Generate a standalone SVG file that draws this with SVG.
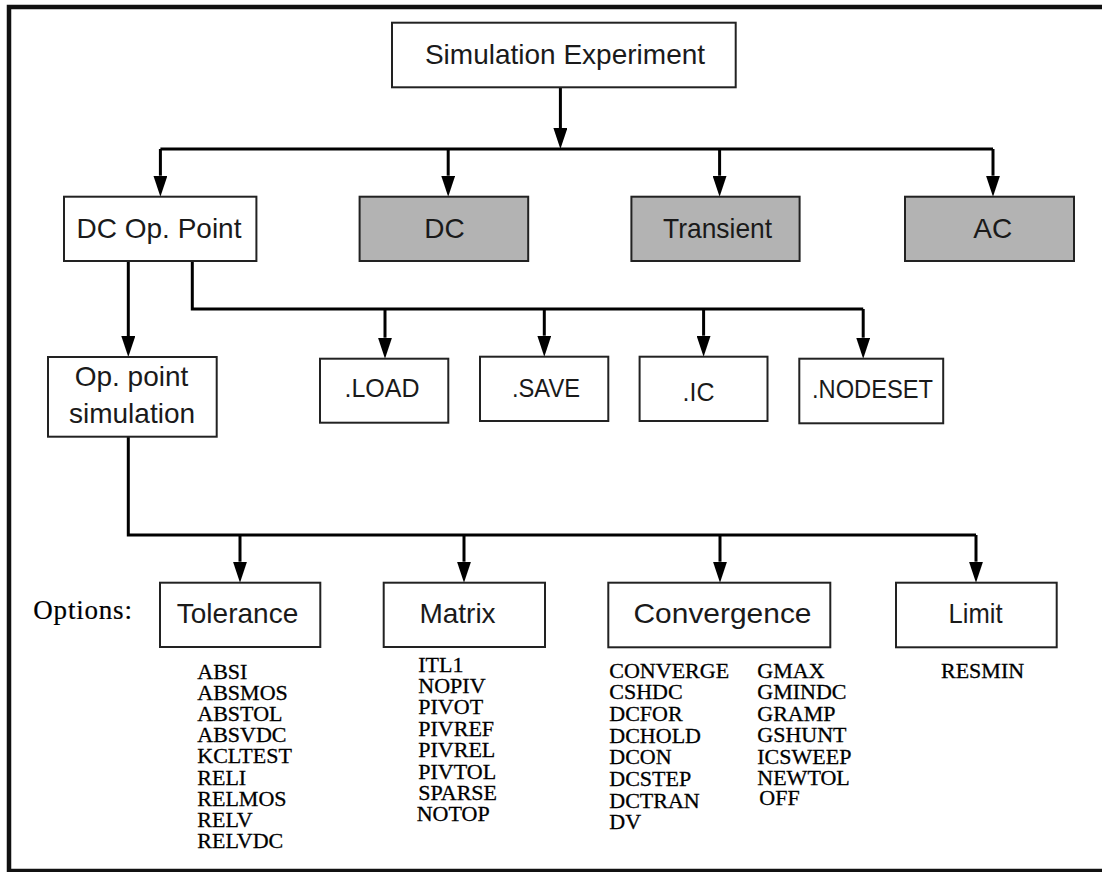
<svg xmlns="http://www.w3.org/2000/svg" width="1102" height="872" viewBox="0 0 1102 872">
<style>
.box{fill:#ffffff;stroke:#222;stroke-width:2}
.gray{fill:#b3b3b3;stroke:#222;stroke-width:2}
.lbl{font-family:"Liberation Sans",Arial,sans-serif;font-size:28px;fill:#1a1a1a;text-anchor:middle}
.sm{font-size:25px}
.opt{font-family:"Liberation Serif","Times New Roman",serif;font-size:22px;fill:#000;stroke:#000;stroke-width:0.3}
.ln{fill:none;stroke:#000;stroke-width:3}
.ar{fill:none;stroke:#000;stroke-width:3;marker-end:url(#ah)}
</style>
<defs>
<marker id="ah" markerUnits="userSpaceOnUse" markerWidth="22" markerHeight="14" refX="0" refY="7" orient="auto">
<path d="M0,0 L21,7 L0,14 Z" fill="#000"/>
</marker>
</defs>
<rect x="9" y="7" width="1130" height="864" fill="#fff" stroke="#111" stroke-width="4.5"/>

<g id="connectors">
<path class="ar" d="M560.4,87.3 V128"/>
<path class="ln" d="M160.4,149 H993"/>
<path class="ar" d="M160.4,149 V175.7"/>
<path class="ar" d="M448.2,149 V175.7"/>
<path class="ar" d="M719.6,149 V175.7"/>
<path class="ar" d="M993,149 V175.7"/>
<path class="ar" d="M128.3,261 V336"/>
<path class="ln" d="M192.3,261 V309 H863.2"/>
<path class="ar" d="M385,309 V337.7"/>
<path class="ar" d="M544.3,309 V335.7"/>
<path class="ar" d="M703.6,309 V335.7"/>
<path class="ar" d="M863.2,309 V337.7"/>
<path class="ln" d="M128.3,436.7 V535 H976"/>
<path class="ar" d="M240,535 V561.7"/>
<path class="ar" d="M464,535 V561.7"/>
<path class="ar" d="M720,535 V561.7"/>
<path class="ar" d="M976,535 V561.7"/>
</g>

<g id="sim"><rect class="box" x="392" y="22.7" width="343.7" height="64.6"/><text class="lbl" x="565" y="63.5">Simulation Experiment</text></g>
<g id="dcop"><rect class="box" x="64" y="196.7" width="192.4" height="64.3"/><text class="lbl" x="159" y="237.7">DC Op. Point</text></g>
<g id="dc"><rect class="gray" x="359.6" y="196.7" width="168.6" height="64.3"/><text class="lbl" x="444.6" y="237.7">DC</text></g>
<g id="transient"><rect class="gray" x="631.4" y="196.7" width="168.2" height="64.3"/><text class="lbl" x="717.6" y="237.7" textLength="109" lengthAdjust="spacingAndGlyphs">Transient</text></g>
<g id="ac"><rect class="gray" x="905" y="196.7" width="169" height="64.3"/><text class="lbl" x="992.7" y="237.7">AC</text></g>

<g id="oppoint"><rect class="box" x="48" y="357" width="168.7" height="79.7"/><text class="lbl" x="131.5" y="385.7">Op. point</text><text class="lbl" x="132" y="422.7">simulation</text></g>
<g id="load"><rect class="box" x="320" y="358.7" width="128.3" height="64"/><text class="lbl sm" x="382" y="397.3">.LOAD</text></g>
<g id="save"><rect class="box" x="480" y="356.7" width="128.3" height="64.3"/><text class="lbl sm" x="546" y="397.3" textLength="68" lengthAdjust="spacingAndGlyphs">.SAVE</text></g>
<g id="ic"><rect class="box" x="639.6" y="356.7" width="127.9" height="64.3"/><text class="lbl sm" x="698.6" y="400.7">.IC</text></g>
<g id="nodeset"><rect class="box" x="799.3" y="358.7" width="143.9" height="64.6"/><text class="lbl sm" x="872.5" y="398.3" textLength="121" lengthAdjust="spacingAndGlyphs">.NODESET</text></g>

<g id="options-label"><text class="opt" x="33.3" y="619" letter-spacing="0.8" style="font-size:27px;stroke-width:0.2">Options:</text></g>

<g id="tolerance"><rect class="box" x="160" y="582.7" width="160.3" height="64.3"/><text class="lbl" x="237.5" y="623">Tolerance</text></g>
<g id="matrix"><rect class="box" x="383.7" y="582.7" width="161.3" height="64.3"/><text class="lbl" x="457.5" y="623">Matrix</text></g>
<g id="convergence"><rect class="box" x="608.3" y="582.7" width="222" height="64.6"/><text class="lbl" x="722.5" y="623" textLength="178" lengthAdjust="spacingAndGlyphs">Convergence</text></g>
<g id="limit"><rect class="box" x="896" y="582.7" width="160.7" height="64.6"/><text class="lbl" x="975.5" y="623" textLength="54" lengthAdjust="spacingAndGlyphs">Limit</text></g>

<g id="tolerance-options">
<text class="opt" x="197.3" y="678.5"><tspan x="197.3">ABSI</tspan><tspan x="197.3" dy="21.2">ABSMOS</tspan><tspan x="197.3" dy="21.2">ABSTOL</tspan><tspan x="197.3" dy="21.2">ABSVDC</tspan><tspan x="197.3" dy="21.2">KCLTEST</tspan><tspan x="197.3" dy="21.2">RELI</tspan><tspan x="197.3" dy="21.2">RELMOS</tspan><tspan x="197.3" dy="21.2">RELV</tspan><tspan x="197.3" dy="21.2">RELVDC</tspan></text>
</g>
<g id="matrix-options">
<text class="opt" x="418.3" y="671.5"><tspan x="418.3">ITL1</tspan><tspan x="418.3" dy="21.4">NOPIV</tspan><tspan x="418.3" dy="21.4">PIVOT</tspan><tspan x="418.3" dy="21.4">PIVREF</tspan><tspan x="418.3" dy="21.4">PIVREL</tspan><tspan x="418.3" dy="21.4">PIVTOL</tspan><tspan x="418.3" dy="21.4">SPARSE</tspan><tspan x="416.7" dy="21.4">NOTOP</tspan></text>
</g>
<g id="convergence-options">
<text class="opt" x="609.3" y="677.5"><tspan x="609.3">CONVERGE</tspan><tspan x="609.3" dy="21.7">CSHDC</tspan><tspan x="609.3" dy="21.7">DCFOR</tspan><tspan x="609.3" dy="21.7">DCHOLD</tspan><tspan x="609.3" dy="21.7">DCON</tspan><tspan x="609.3" dy="21.7">DCSTEP</tspan><tspan x="609.3" dy="21.7">DCTRAN</tspan><tspan x="609.3" dy="21.7">DV</tspan></text>
<text class="opt" x="757.3" y="677.5"><tspan x="757.3">GMAX</tspan><tspan x="757.3" dy="21.5">GMINDC</tspan><tspan x="757.3" dy="21.5">GRAMP</tspan><tspan x="757.3" dy="21.5">GSHUNT</tspan><tspan x="757.3" dy="21.5">ICSWEEP</tspan><tspan x="757.3" dy="21.5">NEWTOL</tspan><tspan x="759.3" dy="20">OFF</tspan></text>
</g>
<g id="limit-options">
<text class="opt" x="941" y="678.3">RESMIN</text>
</g>
</svg>
